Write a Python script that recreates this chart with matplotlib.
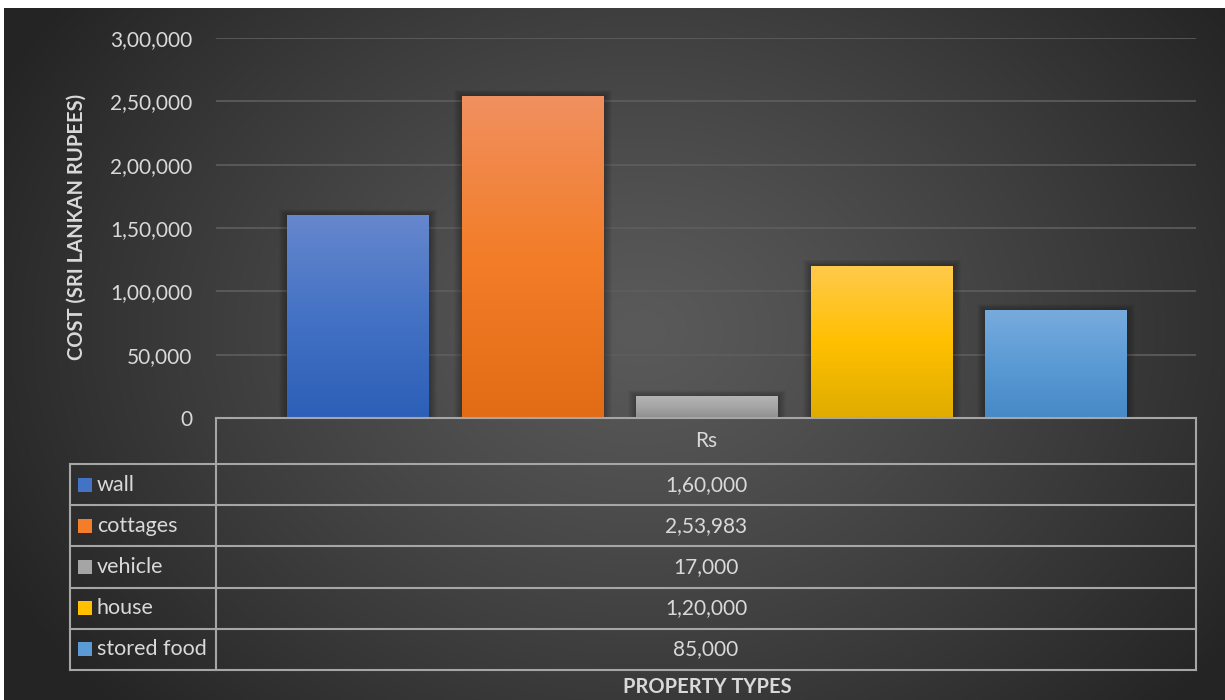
import matplotlib.pyplot as plt
import numpy as np
from matplotlib.colors import LinearSegmentedColormap
from matplotlib.patches import Rectangle

# data
categories = ["wall", "cottages", "vehicle", "house", "stored food"]
costs = [160000, 253983, 17000, 120000, 85000]
series_name = "Rs"
y_ticks = [0, 50000, 100000, 150000, 200000, 250000, 300000]

# gradient colours for each bar: bottom, middle, top
bar_grads = [
    ["#2c5fb8", "#4472c4", "#6687cd"],
    ["#e26b16", "#f37d28", "#f09060"],
    ["#8e8e8e", "#a5a5a5", "#b4b4b4"],
    ["#dfac00", "#ffc000", "#ffca4c"],
    ["#4689c6", "#5b9bd5", "#78abdd"],
]
txt = "#d9d9d9"
W, H = 1225, 700


def indian(n):
    s = str(int(n))
    if len(s) <= 3:
        return s
    last3, rest = s[-3:], s[:-3]
    groups = []
    while len(rest) > 2:
        groups.insert(0, rest[-2:])
        rest = rest[:-2]
    if rest:
        groups.insert(0, rest)
    return ",".join(groups + [last3])


def rect(x0, y0, x1, y1):
    # pixel box (top-left origin) -> figure fraction
    return [x0 / W, 1 - y1 / H, (x1 - x0) / W, (y1 - y0) / H]


plt.rcParams['font.family'] = ['Lato', 'DejaVu Sans']
fig = plt.figure(figsize=(12.25, 7), dpi=100, facecolor="white")

# radial dark background
bg = fig.add_axes(rect(4, 8, W, H))
yy, xx = np.mgrid[8:H, 4:W]
r = np.sqrt(((xx - 640) / 720.0) ** 2 + ((yy - 330) / 560.0) ** 2)
r = np.clip(r, 0, 1)
lo, hi = 0x24 / 255, 0x5a / 255
val = hi - (hi - lo) * r ** 1.2
bg.imshow(np.dstack([val, val, val]), aspect="auto", interpolation="bilinear")
bg.axis("off")

# plot area
ax = fig.add_axes(rect(216, 38, 1196, 418))
ax.set_facecolor("none")
ax.set_xlim(-0.5, 0.5)
ax.set_ylim(0, 300000)
ax.set_yticks(y_ticks)
ax.set_yticklabels([indian(v) for v in y_ticks])
ax.tick_params(axis="y", length=0, pad=17, labelsize=15, labelcolor=txt)
ax.set_xticks([])
for s in ax.spines.values():
    s.set_visible(False)
ax.grid(axis="y", color="#5e5e5e", lw=1.2, zorder=0)
ax.set_axisbelow(True)

bw = 142 / 980
step = 174.5 / 980
px_x = 1 / 980
px_y = 300000 / 380
for i, (v, g) in enumerate(zip(costs, bar_grads)):
    x = (i - 2) * step + 0.0015
    # soft shadow
    for k in range(1, 9):
        ax.add_patch(Rectangle((x - bw / 2 - k * px_x, 0), bw + 2 * k * px_x,
                               v + k * px_y * 0.8, color="black", alpha=0.035,
                               lw=0, zorder=1))
    cmap = LinearSegmentedColormap.from_list("g%d" % i, g)
    grad = np.linspace(0, 1, 256).reshape(-1, 1)
    ax.imshow(grad, cmap=cmap, extent=[x - bw / 2, x + bw / 2, 0, v],
              origin="lower", aspect="auto", zorder=2)
ax.set_xlim(-0.5, 0.5)
ax.set_ylim(0, 300000)

# data table, axis titles in pixel coordinates
ov = fig.add_axes([0, 0, 1, 1])
ov.set_xlim(0, W)
ov.set_ylim(H, 0)
ov.axis("off")
ov.set_facecolor("none")
ov.text(77, 227, "COST (SRI LANKAN RUPEES)", rotation=90, ha="center",
        va="center", fontsize=14.5, fontweight="bold", color=txt)

lc = "#a6a6a6"
lw = 1.5
top, hdr = 418, 464
rows = np.linspace(hdr, 670, len(categories) + 1)
ov.plot([216, 1196], [top, top], color=lc, lw=lw)
for xv in (216, 1196):
    ov.plot([xv, xv], [top, rows[-1]], color=lc, lw=lw)
ov.plot([70, 70], [hdr, rows[-1]], color=lc, lw=lw)
for yv in rows:
    ov.plot([70, 1196], [yv, yv], color=lc, lw=lw)
ov.text(706, (top + hdr) / 2, series_name, ha="center", va="center",
        fontsize=15, color=txt)
for i, (c, v, g) in enumerate(zip(categories, costs, bar_grads)):
    yc = (rows[i] + rows[i + 1]) / 2
    ov.add_patch(Rectangle((78, yc - 7), 14, 14, color=g[1], lw=0))
    ov.text(97, yc, c, ha="left", va="center", fontsize=15.5, color=txt)
    ov.text(706, yc, indian(v), ha="center", va="center", fontsize=15, color=txt)

ov.text(707, 687, "PROPERTY TYPES", ha="center", va="center", fontsize=14.5,
        fontweight="bold", color=txt)

fig.savefig("out.png", dpi=100, facecolor=fig.get_facecolor())
